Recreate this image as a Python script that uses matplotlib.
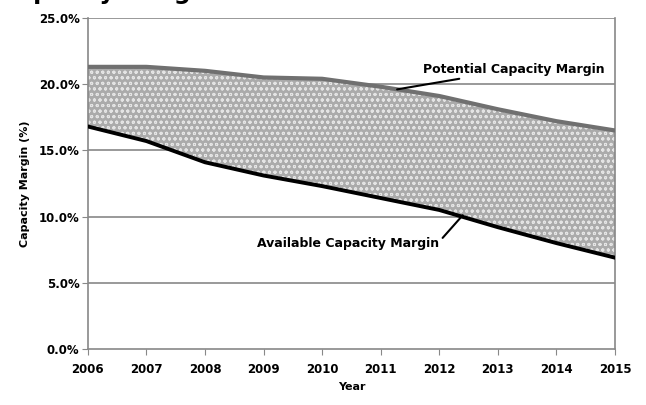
import matplotlib.pyplot as plt
import numpy as np

years = [2006, 2007, 2008, 2009, 2010, 2011, 2012, 2013, 2014, 2015]
potential = [21.3, 21.3, 21.0, 20.5, 20.4, 19.8, 19.1, 18.1, 17.2, 16.5]
available = [16.8, 15.7, 14.1, 13.1, 12.3, 11.4, 10.5, 9.2, 8.0, 6.9]
yticks = [0, 5, 10, 15, 20, 25]

plt.rcParams['font.family'] = ['DejaVu Sans']
plt.rcParams['hatch.linewidth'] = 0.7

fig = plt.figure(figsize=(6.46, 4.05), dpi=100)
ax = fig.add_axes([0.136, 0.138, 0.816, 0.818])

for y in yticks[1:]:
    ax.axhline(y, color='#888888', linewidth=1.2, zorder=1)

ax.fill_between(years, available, potential, facecolor='#ababab',
                hatch='ooo', edgecolor='#e4e4e4', linewidth=0, zorder=2)
ax.plot(years, potential, color='#707070', linewidth=3, zorder=3)
ax.plot(years, available, color='black', linewidth=2.8, zorder=3)

ax.set_xlim(2006, 2015)
ax.set_ylim(0, 25)
ax.set_xticks(years)
ax.set_yticks(yticks)
ax.set_yticklabels([f'{v:.1f}%' for v in yticks], fontsize=8.5, fontweight='bold')
ax.set_xticklabels([str(y) for y in years], fontsize=8.5, fontweight='bold')
ax.tick_params(axis='x', length=4, color='#888888', pad=6)
ax.tick_params(axis='y', length=4, color='#888888', pad=2)

for side in ['left', 'bottom', 'right']:
    ax.spines[side].set_color('#888888')
    ax.spines[side].set_linewidth(1.2)
ax.spines['top'].set_visible(False)

ax.set_xlabel('Year', fontsize=8, fontweight='bold', labelpad=4)
ax.set_ylabel('Capacity Margin (%)', fontsize=8, fontweight='bold', labelpad=6)

ax.annotate('Potential Capacity Margin', xy=(2011.28, 19.6), xytext=(2011.72, 21.1),
            fontsize=9, fontweight='bold', va='center', ha='left',
            arrowprops=dict(arrowstyle='-', color='black', linewidth=1.5,
                            shrinkA=0, shrinkB=0))
ax.annotate('Available Capacity Margin', xy=(2012.40, 10.1), xytext=(2010.44, 8.0),
            fontsize=9, fontweight='bold', va='center', ha='center',
            arrowprops=dict(arrowstyle='-', color='black', linewidth=1.5,
                            shrinkA=0, shrinkB=0, relpos=(1.02, 0.9)))

# title sits mostly above the top edge, as in the source image
fig.text(0.0, 1.003, 'Capacity Margin', fontsize=17, fontweight='bold',
         va='baseline', ha='left')

fig.savefig('out.png', dpi=100)
